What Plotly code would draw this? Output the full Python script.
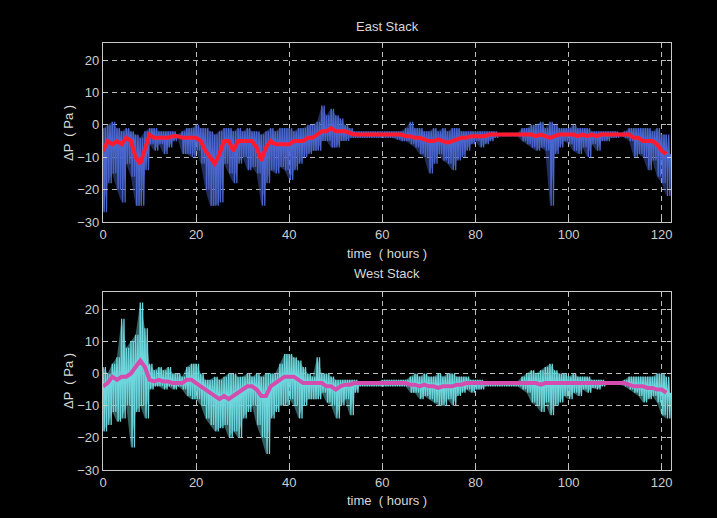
import plotly.graph_objects as go

hours = list(range(122))

east_upper = [-1, 0, 1, -1, -2, -1, -2, -3, -4, -2,
              -1, -1, -2, -2, -2, -2, -3, -2, -1, -1,
              0, -1, -1, -2, -3, -2, -1, -1, -2, -1,
              -2, -1, -2, -2, -3, -2, -1, -2, -1, -1,
              -1, -2, -1, -1, 0, 0, 1, 6, 3, 5,
              3, 2, 0, -1, -2, -2, -2, -2, -2, -2,
              -2, -2, -2, -2, -2, -1, 1, -1, -1, -2,
              -2, -1, -2, -1, -2, -1, -1, -2, -2, -2,
              -2, -2, -2, -2, -2, -2.5, -2.5, -2.5, -2.5, -2.5,
              -1, -1, 0, 0, 1, -1, 1, 0, -1, -1,
              -1, 0, -1, -1, -1, -2, -2, -2, -2, -2,
              -2, -2.5, -2, -1, -1, -1, -1, -1, -2, -1,
              -3, -3]
east_lower = [-27, -18, -15, -20, -24, -12, -16, -25, -25, -14,
              -6, -8, -6, -9, -7, -5, -4, -9, -9, -10,
              -8, -12, -20, -25, -25, -24, -12, -15, -18, -12,
              -10, -14, -13, -15, -25, -18, -14, -15, -13, -14,
              -17, -14, -12, -10, -9, -8, -8, -5, -5, -7,
              -7, -5, -5, -4, -4, -4, -4, -4, -4, -4,
              -4, -4, -4, -4.5, -5, -5, -6, -7, -9, -10,
              -15, -12, -9, -11, -12, -14, -11, -10, -8, -6,
              -5, -7, -6, -5, -4, -3.5, -3.5, -3.5, -3.5, -3.5,
              -5, -6, -7, -8, -7, -8, -25, -9, -7, -5,
              -6, -8, -9, -7, -10, -6, -8, -5, -5, -4,
              -4, -3.5, -4, -5, -10, -9, -10, -14, -11, -16,
              -18, -22]
east_smooth = [-8, -5, -6, -5, -6, -4, -5, -10, -12, -7,
               -3, -4, -4, -4, -4, -3.5, -3.5, -4, -4, -4,
               -4, -5, -8, -10, -12, -9, -5, -5, -8, -5,
               -5, -5, -5, -7, -11, -7, -5, -6, -6, -6,
               -6, -5, -5, -5, -4, -4, -3, -2, -2, -1,
               -2, -2, -2, -2.5, -3, -3, -3, -3, -3, -3,
               -3, -3, -3, -3, -3, -3.5, -3.5, -4, -4, -4.5,
               -5, -5, -4.5, -5, -5.5, -5, -4.5, -4, -4, -3.5,
               -3.5, -3.5, -3.5, -3, -3, -3, -3, -3, -3, -3,
               -3, -3, -3, -3.5, -3, -3.5, -4, -3.5, -3, -3,
               -3, -3, -3.5, -3, -3.5, -3, -3.5, -3, -3, -3,
               -3, -3, -3, -3, -4, -4, -5, -5, -5, -6,
               -8, -9]

west_upper = [2, 0, 3, 5, 17, 8, 10, 12, 22, 14,
              3, 1, 2, 1, 2, 0, 0, -1, 2, 3,
              3, 0, -2, -2, -1, -2, -1, 0, 0, -1,
              -1, 0, -1, 0, -1, 0, 0, 0, 3, 6,
              6, 5, 4, 2, 0, -1, 5, 0, 0, -1,
              -2, -2, -2, -2, -2, -2.5, -2.5, -2.5, -2.5, -2.5,
              -2, -2, -2, -2, -2, -2, -1, 0, -1, 0,
              -1, -1, 0, -1, 0, 0, -1, -1, -1, -2,
              -2, -2, -2.5, -2.5, -2.5, -2.5, -2.5, -2.5, -2.5, -2.5,
              -1, 0, 1, 0, 1, 2, 3, 1, 0, 0,
              -1, 0, -1, -1, -1, -2, -2, -2, -2.5, -2.5,
              -2.5, -2.5, -2, -1, -1, -1, -1, -1, -1, 0,
              0, -1]
west_lower = [-18, -16, -12, -15, -14, -10, -23, -12, -10, -14,
              -5, -4, -4, -5, -4, -5, -4, -5, -7, -8,
              -8, -10, -14, -16, -18, -17, -16, -20, -18, -20,
              -14, -12, -10, -16, -20, -25, -14, -12, -10, -10,
              -8, -10, -14, -10, -8, -8, -8, -6, -9, -10,
              -14, -10, -8, -13, -6, -4, -4, -4, -4, -4,
              -4, -4, -4, -4, -4, -4, -6, -6, -8, -7,
              -8, -9, -10, -10, -8, -10, -7, -6, -5, -6,
              -5, -5, -4, -4, -4, -4, -4, -4, -4, -4,
              -5, -6, -9, -10, -12, -9, -13, -10, -9, -7,
              -8, -6, -7, -5, -6, -4.5, -5, -4, -3.5, -3.5,
              -3.5, -3.5, -4, -5, -6, -7, -9, -8, -7, -9,
              -13, -14]
west_smooth = [-4, -3, -1, -2, -1, -1, 0, 2, 4, 2,
               -2, -2.5, -2, -2.5, -2.5, -3, -3, -3, -2, -2,
               -3, -4, -5, -6, -7, -8, -7, -8, -7, -6,
               -5, -4, -4, -5, -7, -7, -4, -3, -2, -1,
               -1, -1, -2, -3, -3, -3, -3, -3, -4, -4,
               -5, -4, -3.5, -3.5, -3, -3, -3, -3, -3, -3,
               -3, -3, -3, -3, -3, -3, -3.5, -3.5, -4, -3.5,
               -4, -4, -4.5, -4, -4, -4, -3.5, -3.5, -3, -3,
               -3, -3, -3, -3, -3, -3, -3, -3, -3, -3,
               -3, -3, -3, -3, -3.5, -3, -3, -3, -3, -3,
               -3, -3, -3, -3, -3, -3, -3, -3, -3, -3,
               -3, -3, -3, -3.5, -4, -4, -4, -4.5, -4.5, -5,
               -5, -6]

x_ticks = [0, 20, 40, 60, 80, 100, 120]
y_ticks = [-30, -20, -10, 0, 10, 20]


def zigzag(t, up, lo, sm):
    xs, ys = [], []
    for i in range(len(t)):
        for k, v in enumerate([up[i], sm[i], lo[i], sm[i], up[i], sm[i], lo[i], sm[i]]):
            xs.append(t[i] + k / 8)
            ys.append(v)
    return xs, ys


fig = go.Figure()


def add_stack(up, lo, sm, noise_rgb, smooth_color, xa, ya):
    fig.add_trace(go.Scatter(x=hours, y=up, mode="lines", line=dict(width=0),
                             xaxis=xa, yaxis=ya, hoverinfo="skip"))
    fig.add_trace(go.Scatter(x=hours, y=lo, mode="lines", line=dict(width=0),
                             fill="tonexty", fillcolor="rgba(%d,%d,%d,0.45)" % noise_rgb,
                             xaxis=xa, yaxis=ya, hoverinfo="skip"))
    zx, zy = zigzag(hours, up, lo, sm)
    fig.add_trace(go.Scatter(x=zx, y=zy, mode="lines",
                             line=dict(color="rgb(%d,%d,%d)" % noise_rgb, width=1.3),
                             xaxis=xa, yaxis=ya, hoverinfo="skip"))
    fig.add_trace(go.Scatter(x=hours, y=sm, mode="lines",
                             line=dict(color=smooth_color, width=4),
                             xaxis=xa, yaxis=ya))


add_stack(east_upper, east_lower, east_smooth, (74, 102, 204), "#ff1a30", "x", "y")
add_stack(west_upper, west_lower, west_smooth, (108, 214, 220), "#d44cae", "x2", "y2")

axis_common = dict(
    showline=True, linecolor="#c8c8c8", linewidth=1.2, mirror="ticks",
    ticks="inside", ticklen=4, tickcolor="#c8c8c8",
    showgrid=True, gridcolor="#bdbdbd", gridwidth=1, griddash="5px,4px",
    zeroline=False,
    tickfont=dict(family="Liberation Sans, Arial, sans-serif", size=13, color="#cfcfcf"),
)

L, R, T, B = 103, 46, 43, 48
W, H = 717, 518
PW, PH = W - L - R, H - T - B

fig.update_layout(
    width=W, height=H,
    paper_bgcolor="#000000", plot_bgcolor="#000000",
    showlegend=False,
    margin=dict(l=L, r=R, t=T, b=B),
    xaxis=dict(axis_common, domain=[0, 1], range=[0, 122], tickvals=x_ticks, anchor="y"),
    yaxis=dict(axis_common, domain=[(H - B - 222) / PH, 1], range=[-30, 25.3], tickvals=y_ticks, anchor="x"),
    xaxis2=dict(axis_common, domain=[0, 1], range=[0, 122], tickvals=x_ticks, anchor="y2"),
    yaxis2=dict(axis_common, domain=[0, (H - B - 292) / PH], range=[-30, 25.3], tickvals=y_ticks, anchor="x2"),
)


def px(xp):
    return (xp - L) / PW


def py(yp):
    return (H - B - yp) / PH


lab_font = dict(family="Liberation Sans, Arial, sans-serif", size=13, color="#d8d8d8")
cx = px((103 + 671) / 2)
annots = [
    dict(text="East Stack", x=cx, y=py(27)),
    dict(text="West Stack", x=cx, y=py(273)),
    dict(text="time  ( hours )", x=cx, y=py(253)),
    dict(text="time  ( hours )", x=cx, y=py(500)),
    dict(text="ΔP  ( Pa )", x=px(68), y=py(133), textangle=-90),
    dict(text="ΔP  ( Pa )", x=px(68), y=py(381), textangle=-90),
]
for a in annots:
    fig.add_annotation(xref="paper", yref="paper", showarrow=False, xanchor="center",
                       yanchor="middle", font=lab_font, **a)

fig.write_html("out.html", config={"displayModeBar": False},
               post_script="document.body.style.margin='0';document.body.style.background='#000';")
